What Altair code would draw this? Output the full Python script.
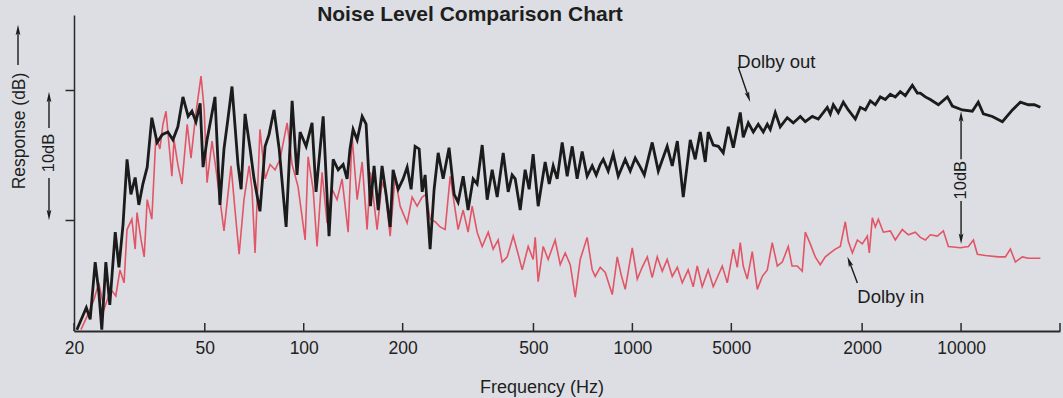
import altair as alt
import pandas as pd

# ---- data: (frequency Hz, response dB) ----
dolby_out = [
    (20.4, 1.6), (21.8, 3.3), (22.4, 2.4), (23.2, 6.8), (23.8, 4.5), (24.3, 1.6), (25.0, 6.8), (25.7, 3.5),
    (26.7, 9.1), (27.4, 6.4), (28.2, 9.7), (29.0, 14.7), (29.8, 12.0), (30.7, 13.3), (31.5, 11.2), (32.4, 12.8),
    (33.4, 14.1), (34.5, 17.9), (35.8, 16.0), (37.1, 16.6), (38.6, 16.8), (40.0, 16.2), (41.4, 17.2), (42.9, 19.5),
    (44.5, 18.0), (45.7, 18.4), (47.0, 17.6), (48.4, 19.0), (49.4, 14.1), (50.8, 16.2), (52.2, 17.8), (53.7, 19.5),
    (55.6, 11.2), (57.2, 15.5), (58.8, 17.8), (60.5, 20.3), (63.1, 14.3), (64.5, 12.4), (66.3, 18.2), (68.7, 15.5),
    (70.6, 13.2), (73.6, 10.7), (76.3, 15.7), (78.4, 16.6), (81.2, 18.5), (84.2, 15.5), (88.4, 9.5), (92.2, 19.2),
    (95.4, 13.5), (97.5, 16.8), (101.7, 15.7), (106, 17.5), (109, 12.2), (114.6, 18.0), (119.4, 8.8), (122.9, 14.7),
    (127.3, 13.9), (131.8, 14.3), (135.5, 13.2), (138.3, 15.5), (141.3, 17.0), (145.4, 16.2), (150.6, 18.0),
    (154.8, 17.4), (159.6, 11.1), (163.7, 14.2), (168.5, 10.8), (173.1, 14.2), (178.1, 12.0), (183.2, 9.5),
    (187.0, 13.9), (193.8, 12.4), (200.6, 13.2), (206.4, 14.1), (212.2, 12.4), (218.2, 15.7), (224.5, 15.5),
    (229.3, 12.2), (234.1, 13.5), (242.4, 7.8), (249.3, 12.4), (256.5, 15.2), (265.6, 13.2), (276.8, 15.6),
    (286.9, 12.0), (294.9, 11.4), (305.6, 13.4), (316.3, 10.8), (327.7, 13.2), (337, 12.8), (349.1, 15.8),
    (361.6, 11.6), (374.4, 13.9), (387.8, 11.8), (404.5, 15.2), (418.9, 12.2), (430.7, 13.5), (440, 13.2),
    (455.7, 10.8), (471.7, 13.9), (485.1, 12.4), (498.9, 15.1), (516.8, 11.1), (542.7, 14.5), (558.4, 12.8),
    (574.1, 14.2), (590.4, 13.2), (611.5, 16.0), (633.3, 13.4), (656, 15.7), (679, 13.2), (703.4, 15.3),
    (728.3, 13.4), (754.6, 14.2), (776.3, 13.5), (798.1, 14.3), (815.4, 14.7), (844.2, 13.8), (874.2, 15.1),
    (905.6, 13.4), (951, 14.7), (985, 13.8), (1020, 14.8), (1057, 14.1), (1087, 13.5), (1149, 16.0), (1199, 13.8),
    (1276, 15.7), (1322, 14.2), (1370, 16.1), (1428, 11.8), (1500, 16.2), (1553, 14.7), (1609, 16.8), (1666, 14.5),
    (1701, 16.8), (1762, 15.8), (1826, 15.7), (1890, 15.2), (1958, 17.2), (2028, 15.6), (2129, 18.3), (2174, 16.4),
    (2252, 17.5), (2333, 16.8), (2415, 17.4), (2502, 16.8), (2573, 17.4), (2627, 17.0), (2721, 18.3), (2817, 17.2),
    (2959, 17.9), (3087, 17.5), (3242, 18.0), (3358, 17.6), (3527, 18.0), (3678, 17.8), (3917, 18.7), (4001, 18.2),
    (4086, 18.9), (4231, 18.3), (4383, 19.1), (4539, 18.5), (4767, 17.8), (4937, 18.7), (5116, 18.5), (5296, 19.2),
    (5484, 18.9), (5679, 19.5), (5881, 19.3), (6091, 19.7), (6308, 19.5), (6533, 19.9), (6766, 19.6), (7108, 20.4),
    (7362, 19.8), (7517, 19.8), (7786, 19.5), (8063, 19.3), (8529, 18.9), (9085, 19.5), (9408, 18.8), (10090, 18.5),
    (10820, 18.4), (11280, 19.1), (11690, 18.2), (12450, 18.0), (13360, 17.6), (14330, 18.5), (15150, 19.1),
    (16020, 18.9), (16710, 18.9), (17430, 18.7),
]

dolby_in = [
    (21.0, 1.6), (21.9, 2.6), (23.0, 3.9), (23.8, 5.2), (24.7, 3.2), (25.9, 4.7), (26.8, 4.2), (27.6, 6.2),
    (28.4, 5.2), (29.0, 9.3), (30.0, 10.1), (30.7, 7.8), (31.1, 10.6), (32.0, 8.5), (32.7, 7.2), (33.4, 11.6),
    (34.5, 10.1), (35.5, 16.5), (36.5, 15.5), (37.3, 17.4), (38.1, 18.4), (39.7, 13.4), (40.3, 16.2), (41.4, 14.3),
    (42.6, 12.8), (44.2, 17.4), (45.4, 14.8), (47.0, 18.3), (48.7, 21.1), (49.8, 18.5), (50.8, 12.9), (52.6, 16.1),
    (54.1, 13.9), (55.6, 11.6), (57.2, 9.2), (60.1, 14.2), (61.8, 10.8), (63.6, 7.4), (65.8, 11.6), (68.2, 14.2),
    (69.6, 12.4), (71.1, 7.5), (73.6, 17.0), (76.3, 13.2), (79.0, 14.3), (81.8, 13.9), (84.7, 14.7), (89.0, 17.5),
    (92.2, 14.3), (96.1, 12.6), (101, 8.5), (103.1, 14.9), (106.8, 12.4), (109.8, 8.0), (113.7, 13.7), (117.8, 9.8),
    (122, 12.4), (126.3, 11.6), (130.8, 13.2), (136.5, 9.1), (140.3, 16.5), (145.4, 11.6), (150.6, 14.5),
    (155.9, 9.3), (159.6, 13.7), (167.2, 9.3), (173.1, 12.9), (176.8, 12.4), (183.2, 8.8), (189.7, 13.4),
    (196.5, 11.1), (206.4, 9.8), (213.7, 11.8), (221.3, 11.1), (229.3, 11.8), (235.7, 12.0), (242.4, 10.1),
    (251.1, 9.9), (260, 9.5), (269.3, 9.3), (279, 13.4), (289, 10.8), (294.9, 9.3), (305.6, 10.8), (316.3, 9.1),
    (325.4, 11.1), (337, 9.1), (349.1, 8.0), (364.2, 9.1), (377, 7.8), (390.4, 8.5), (401.6, 6.8), (416, 7.2),
    (433.9, 8.8), (449.3, 7.4), (462.1, 6.2), (481.9, 8.0), (498.9, 7.0), (506.2, 8.7), (516.8, 5.3), (535.4, 8.0),
    (554.2, 7.0), (582.1, 8.5), (603.2, 6.6), (624.6, 7.5), (647, 6.6), (670.1, 4.1), (693.8, 7.0), (728.3, 8.7),
    (754.6, 6.2), (770.6, 5.7), (798.1, 6.4), (826.9, 6.0), (868.5, 4.3), (899.2, 7.2), (924.8, 5.8), (951, 4.7),
    (999, 7.9), (1035, 5.5), (1071, 6.4), (1110, 7.2), (1149, 5.6), (1190, 7.2), (1233, 6.1), (1276, 7.0),
    (1322, 5.7), (1370, 6.4), (1418, 5.2), (1478, 6.2), (1531, 4.9), (1575, 6.5), (1631, 4.9), (1701, 6.2),
    (1762, 4.9), (1877, 6.5), (1944, 5.2), (2028, 7.8), (2085, 6.4), (2129, 8.3), (2174, 6.5), (2236, 5.5),
    (2316, 7.6), (2399, 4.7), (2485, 5.7), (2573, 6.2), (2664, 8.3), (2760, 6.5), (2858, 6.8), (2980, 8.0),
    (3060, 6.5), (3174, 6.5), (3287, 6.1), (3358, 9.1), (3477, 8.2), (3601, 7.2), (3729, 6.6), (3863, 7.2),
    (4001, 7.5), (4144, 7.8), (4291, 8.0), (4444, 9.9), (4539, 8.4), (4670, 7.5), (4836, 8.5), (5008, 8.2),
    (5186, 8.8), (5258, 7.5), (5370, 10.2), (5484, 9.5), (5601, 10.1), (5801, 9.1), (6091, 9.2), (6308, 8.5),
    (6625, 9.3), (6912, 8.9), (7260, 9.1), (7517, 8.7), (7786, 8.5), (8063, 8.9), (8468, 8.8), (8832, 9.2),
    (9149, 8.0), (9948, 7.9), (10530, 8.0), (10900, 8.5), (11210, 7.4), (11860, 7.3), (12980, 7.2), (13640, 7.2),
    (14130, 7.8), (14630, 6.8), (15360, 7.2), (16020, 7.1), (17430, 7.1),
]

tick_values = [20, 50, 100, 200, 500, 1000, 2000, 5000, 10000, 20000]
tick_labels = ["20", "50", "100", "200", "500", "1000", "5000", "2000", "10000", ""]

FONT = "Liberation Sans"
BLACK = "#1b1b1b"
RED = "#e25566"
BG = "#dcdee3"
ARROW = "M0,-1L0.45,1L0,0.55L-0.45,1Z"

df_out = pd.DataFrame(dolby_out, columns=["freq", "db"])
df_in = pd.DataFrame(dolby_in, columns=["freq", "db"])
df_ticks = pd.DataFrame({"freq": tick_values})
one = pd.DataFrame({"a": [0]})

label_expr = "".join(
    f"datum.value == {v} ? '{l}' : " for v, l in zip(tick_values, tick_labels)
) + "''"

xscale = alt.Scale(type="log", domain=[20, 20000], nice=False)
yscale = alt.Scale(domain=[1.5, 25.8], nice=False, zero=False)

x_axis = alt.Axis(
    values=tick_values, labelExpr=label_expr, ticks=False, grid=False,
    domainColor="#2a2a2a", domainWidth=2, labelFont=FONT, labelFontSize=17.5,
    labelColor="#222222", labelPadding=8, labelFlush=False, labelOverlap=False, title=None,
)
y_axis = alt.Axis(
    values=[10, 20], labels=False, ticks=True, tickSize=9, tickWidth=1.5, tickColor="#2a2a2a",
    grid=False, domainColor="#2a2a2a", domainWidth=1.5, title=None,
)

red_line = alt.Chart(df_in).mark_line(color=RED, strokeWidth=1.6).encode(
    x=alt.X("freq:Q", scale=xscale, axis=x_axis),
    y=alt.Y("db:Q", scale=yscale, axis=y_axis),
)
black_line = alt.Chart(df_out).mark_line(color=BLACK, strokeWidth=2.8).encode(
    x=alt.X("freq:Q", scale=xscale),
    y=alt.Y("db:Q", scale=yscale),
)

inner_ticks = alt.Chart(df_ticks).mark_rule(color="#2a2a2a", strokeWidth=1.5).encode(
    x=alt.X("freq:Q", scale=xscale), y=alt.value(316), y2=alt.value(308)
)

# annotation helpers (data coordinates)
def seg(f1, v1, f2, v2):
    d = pd.DataFrame({"f1": [f1], "v1": [v1], "f2": [f2], "v2": [v2]})
    return alt.Chart(d).mark_rule(color=BLACK, strokeWidth=1.4).encode(
        x=alt.X("f1:Q", scale=xscale), y=alt.Y("v1:Q", scale=yscale),
        x2="f2:Q", y2="v2:Q",
    )

def head(f, v, angle):
    d = pd.DataFrame({"f": [f], "v": [v]})
    return alt.Chart(d).mark_point(shape=ARROW, filled=True, color=BLACK, size=110,
                                   angle=angle, opacity=1).encode(
        x=alt.X("f:Q", scale=xscale), y=alt.Y("v:Q", scale=yscale)
    )

def label(f, v, text, angle=0, align="left", size=18.5):
    d = pd.DataFrame({"f": [f], "v": [v]})
    return alt.Chart(d).mark_text(text=text, font=FONT, fontSize=size, color=BLACK,
                                  align=align, baseline="middle", angle=angle).encode(
        x=alt.X("f:Q", scale=xscale), y=alt.Y("v:Q", scale=yscale)
    )

# pixel-placed helpers (outside the plot)
def pseg(x, y1, y2):
    return alt.Chart(one).mark_rule(color=BLACK, strokeWidth=1.4).encode(
        x=alt.value(x), y=alt.value(y1), y2=alt.value(y2))

def phead(x, y, angle):
    return alt.Chart(one).mark_point(shape=ARROW, filled=True, color=BLACK, size=110,
                                     angle=angle, opacity=1).encode(
        x=alt.value(x), y=alt.value(y))

def ptext(x, y, text, size, angle=0, weight="normal"):
    return alt.Chart(one).mark_text(text=text, font=FONT, fontSize=size, color="#1e1e1e",
                                    fontWeight=weight, align="center", baseline="middle",
                                    angle=angle).encode(x=alt.value(x), y=alt.value(y))

annotations = [
    # Dolby out
    label(2085, 22.2, "Dolby out"),
    seg(2099, 21.8, 2255, 19.5), head(2255, 19.5, 161),
    # Dolby in
    label(4836, 4.15, "Dolby in"),
    seg(4836, 5.2, 4570, 6.84), head(4570, 6.84, 339),
    # right 10dB gap marker
    label(10000, 13.1, "10dB", angle=270, align="center", size=16.5),
    seg(10000, 18.0, 10000, 14.7), head(10000, 18.0, 0),
    seg(10000, 11.5, 10000, 8.6), head(10000, 8.6, 180),
    # left side labels
    ptext(-54, 116, "Response  (dB)", 17.5, angle=270),
    pseg(-56, 50, 14), phead(-56, 15, 0),
    ptext(-25, 138, "10dB", 16.5, angle=270),
    pseg(-25, 113, 82), phead(-25, 82, 0),
    pseg(-25, 163, 200), phead(-25, 200, 180),
    # title and x title
    ptext(396, 0, "Noise Level Comparison Chart", 21, weight="bold"),
    ptext(468, 373, "Frequency  (Hz)", 18),
]

chart = alt.layer(red_line, black_line, inner_ticks, *annotations).properties(
    width=986, height=316,
    autosize=alt.AutoSizeParams(type="none"),
    padding={"left": 74, "top": 15, "right": 3, "bottom": 67},
    background=BG,
).configure_view(stroke=None)

chart.save("out.html", embed_options={"renderer": "svg", "actions": False})
